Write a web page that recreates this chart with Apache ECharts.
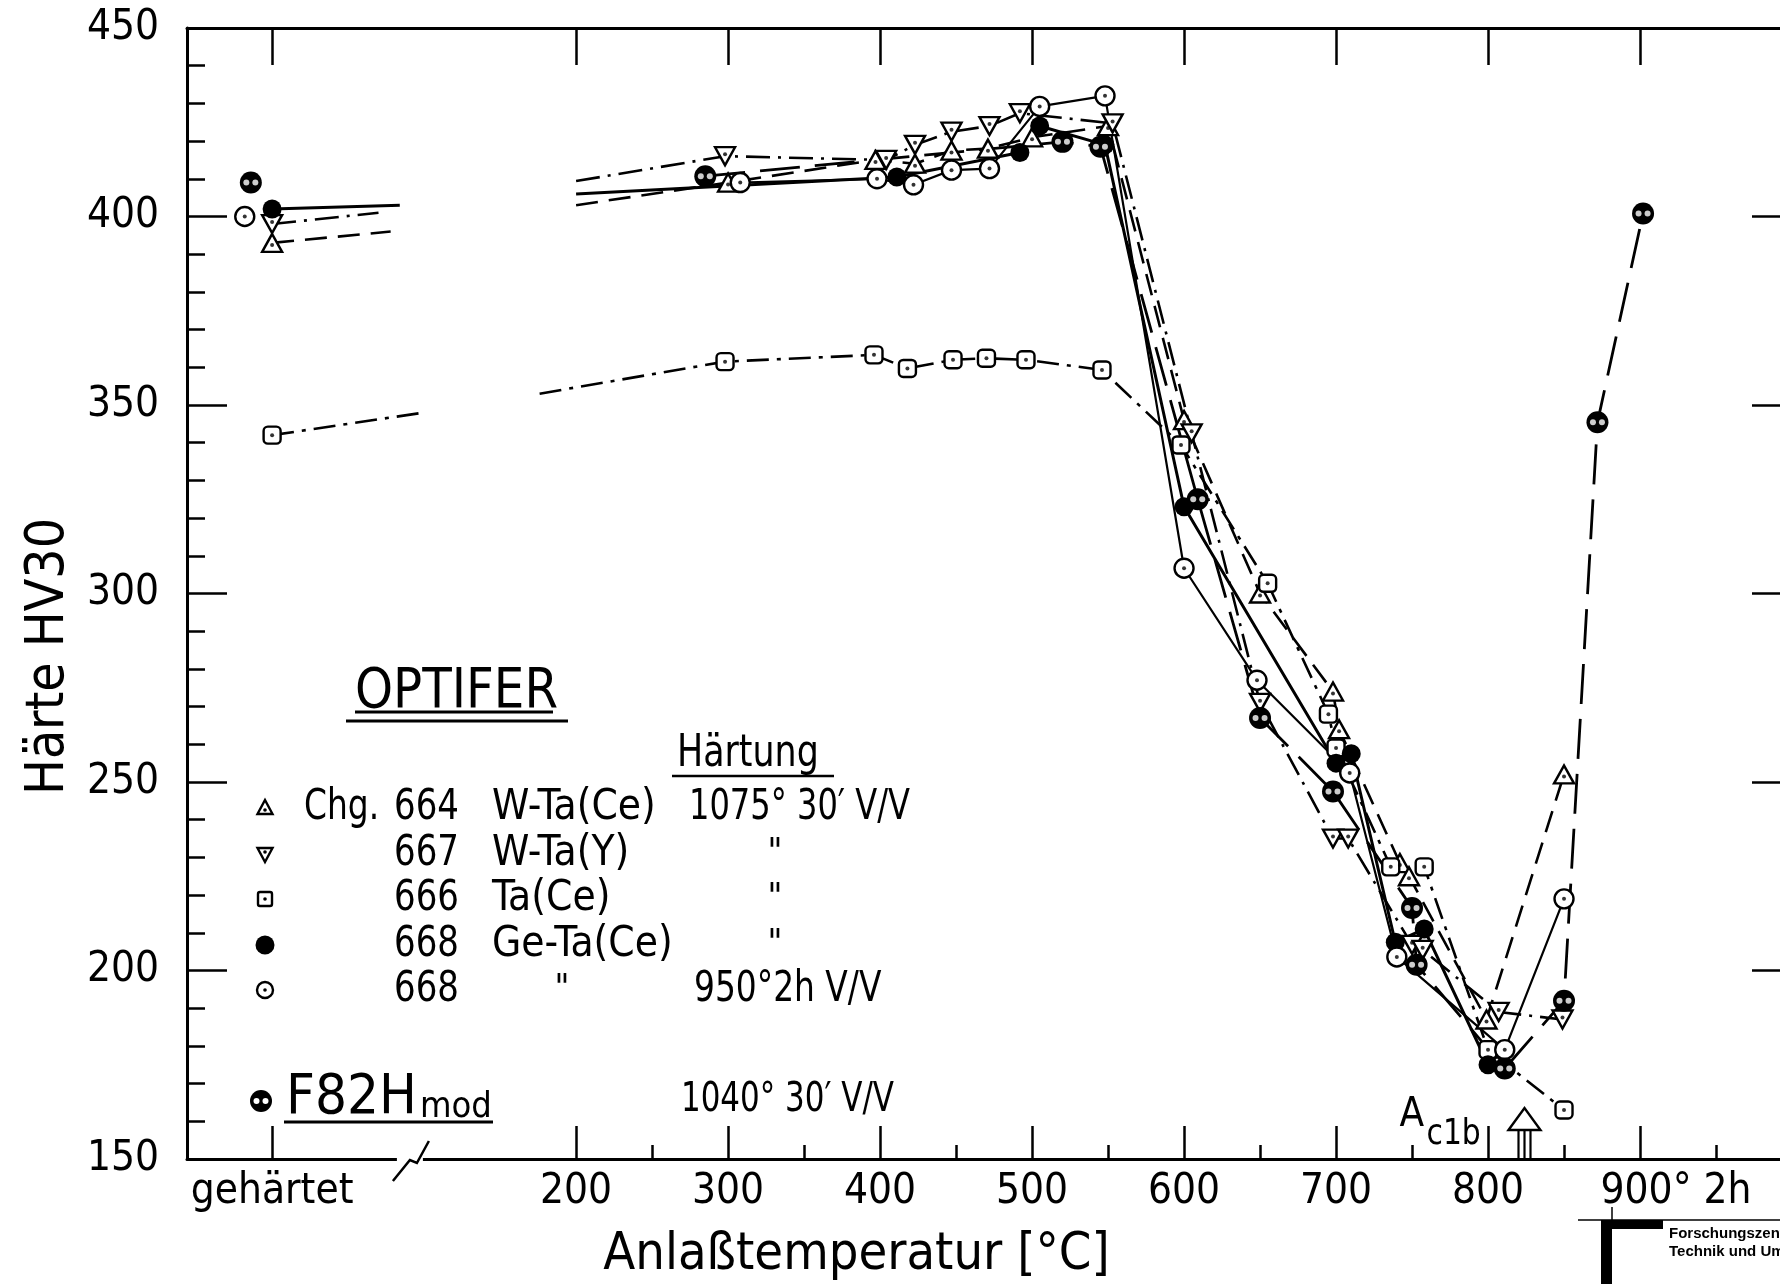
<!DOCTYPE html>
<html><head><meta charset="utf-8">
<script src="https://cdn.jsdelivr.net/npm/echarts@6/dist/echarts.min.js"></script>
<style>html,body{margin:0;padding:0;background:#fff}#c{width:1780px;height:1284px}</style>
</head><body><div id="c"></div>
<script>
// ---- axis ticks / labels ----
const xMajorTicks = [0, 200, 300, 400, 500, 600, 700, 800, 900];
const xMinorTicks = [250, 350, 450, 550, 650, 750, 850, 950];
const xSpecialLabels = { 0: 'gehärtet', 900: '900° 2h' };
const yMin = 150, yMax = 450, yInterval = 50;

// ---- data: [Anlaßtemperatur °C (0 = gehärtet), Härte HV30] ----
// Chg. 664 W-Ta(Ce)
const c664Points = [[0,393],[300,409],[397,415],[423,414],[447,417.5],[471,418],[500,421],[550,424],[600,346],[650,300],[698,274],[702,264],[742,228.5],[748,225],[799,187],[850,252]];
const c664StubEnd = [78,396], c664StubStart = [200,403];
// 667 W-Ta(Y)
const c667Points = [[0,398],[298,416],[404,415],[423,419],[447,422.5],[472,424],[492,427.4],[553,424.7],[605,342.5],[650,271],[698,235],[708,235],[750,206.8],[757,205.5],[807,189],[849,187]];
const c667StubEnd = [70,401], c667StubStart = [200,409.4];
// 666 Ta(Ce)
const c666Points = [[0,342],[298,361.5],[396,363.3],[418,359.7],[448,362],[470,362.4],[496,362],[546,359.3],[598,339.4],[655,302.7],[695,268],[700,259],[736,227.5],[758,227.5],[800,179],[850,163]];
const c666StubEnd = [100,348], c666StubStart = [176,353];
// 668 Ge-Ta(Ce), 1075° 30' V/V
const c668Points = [[0,402],[411,410.5],[492,417],[505,424],[548,419],[600,323],[700,255],[710,257.5],[739,207.5],[758,211],[800,175]];
const c668StubEnd = [84,403], c668StubStart = [200,406];
// 668 Ge-Ta(Ce), 950° 2h V/V
const c668bPoints = [[-18,400],[308,409],[398,410],[422,408.4],[447,412.3],[472,412.7],[505,429.2],[548,432],[600,306.7],[648,277],[709,252.4],[740,203.6],[811,179],[850,219]];
// F82H mod
const f82Points = [[-14,409],[285,410.7],[520,419.8],[545,418.5],[609,325],[650,267],[698,247.5],[750,216.6],[753,201.5],[811,174],[850,192],[872,345.4],[902,400.8]];

const FONT = "'Liberation Sans Narrow','DejaVu Sans Condensed','Arial Narrow',sans-serif";
const X_MIN = -56, X_MAX = 1000;
const BLACK = '#000';

function lineData(points, stubEnd, stubStart) {
  const d = [];
  if (stubEnd) { d.push(points[0], stubEnd, '-', stubStart); }
  return d.concat(points.slice(1));
}
function lineSeries(name, data, type, width) {
  return { name, type: 'line', data, xAxisIndex: 0, yAxisIndex: 0, showSymbol: false, symbol: 'none',
    connectNulls: false, silent: true, z: 2, animation: false,
    lineStyle: { color: BLACK, width, type } };
}
function markSeries(name, data, symbol, size, fill, rotate, z) {
  return { name, type: 'scatter', data, xAxisIndex: 0, yAxisIndex: 0, symbol, symbolSize: size,
    symbolRotate: rotate || 0, silent: true, z: z || 3, animation: false,
    itemStyle: { color: fill, borderColor: BLACK, borderWidth: fill === BLACK ? 0 : 2.4, opacity: 1 } };
}
function dotSeries(name, data, size, color, offset) {
  return { name, type: 'scatter', data, xAxisIndex: 0, yAxisIndex: 0, symbol: 'circle', symbolSize: size,
    symbolOffset: offset || [0, 0], silent: true, z: 4, animation: false,
    itemStyle: { color, borderWidth: 0 } };
}

const hiddenAxis = { type: 'value', min: X_MIN, max: X_MAX, splitLine: { show: false },
  axisLine: { show: false }, axisTick: { show: false }, axisLabel: { show: false } };

const option = {
  backgroundColor: '#fff',
  animation: false,
  grid: { left: 187, right: -12, top: 28, bottom: 125, containLabel: false, outerBoundsMode: 'none' },
  xAxis: [
    Object.assign({}, hiddenAxis, {
      position: 'bottom',
      axisLine: { show: true, onZero: false, lineStyle: { color: BLACK, width: 3 } },
      axisTick: { show: true, inside: true, length: 33, customValues: xMajorTicks, lineStyle: { color: BLACK, width: 2.5 } },
      axisLabel: { show: true, customValues: xMajorTicks, margin: 12, color: BLACK, fontSize: 42, fontFamily: FONT,
        formatter: v => v === 900 ? '{n|900° 2h}' : (xSpecialLabels[v] || String(v)),
        rich: { n: { fontSize: 42, fontFamily: FONT, color: BLACK, padding: [0, 0, 0, 72] } } },
      name: 'Anlaßtemperatur [°C]', nameLocation: 'middle', nameGap: 70,
      nameTextStyle: { fontSize: 52, fontFamily: FONT, color: BLACK, padding: [0, 266, 0, 0] }
    }),
    Object.assign({}, hiddenAxis, {
      position: 'bottom',
      axisTick: { show: true, inside: true, length: 14, customValues: xMinorTicks, lineStyle: { color: BLACK, width: 2.5 } }
    }),
    Object.assign({}, hiddenAxis, {
      position: 'top',
      axisLine: { show: true, onZero: false, lineStyle: { color: BLACK, width: 3 } },
      axisTick: { show: true, inside: true, length: 37, customValues: xMajorTicks, lineStyle: { color: BLACK, width: 2.5 } }
    })
  ],
  yAxis: [
    { type: 'value', position: 'left', min: yMin, max: yMax, interval: yInterval, splitLine: { show: false },
      axisLine: { show: true, onZero: false, lineStyle: { color: BLACK, width: 3 } },
      axisTick: { show: true, inside: true, length: 40, lineStyle: { color: BLACK, width: 2.5 } },
      minorTick: { show: true, splitNumber: 5, length: 18, lineStyle: { color: BLACK, width: 2.5 } },
      axisLabel: { show: true, margin: 28, color: BLACK, fontSize: 42, fontFamily: FONT },
      name: 'Härte HV30', nameLocation: 'middle', nameGap: 100, nameRotate: 90,
      nameTextStyle: { fontSize: 53, fontFamily: FONT, color: BLACK, padding: [0, 126, 0, 0] } },
    { type: 'value', position: 'right', min: yMin, max: yMax, interval: yInterval, splitLine: { show: false },
      axisLine: { show: true, onZero: false, lineStyle: { color: BLACK, width: 3 } },
      axisTick: { show: true, inside: true, length: 40, lineStyle: { color: BLACK, width: 2.5 } },
      axisLabel: { show: false } }
  ],
  series: [
    lineSeries('664 W-Ta(Ce)', lineData(c664Points, c664StubEnd, c664StubStart), [22, 11], 2.6),
    lineSeries('667 W-Ta(Y)', lineData(c667Points, c667StubEnd, c667StubStart), [24, 8, 3, 8], 2.6),
    lineSeries('666 Ta(Ce)', lineData(c666Points, c666StubEnd, c666StubStart), [22, 8, 4, 8], 2.6),
    lineSeries('668 Ge-Ta(Ce)', lineData(c668Points, c668StubEnd, c668StubStart), 'solid', 3),
    lineSeries('668 950°2h', c668bPoints.slice(1), 'solid', 2.2),
    lineSeries('F82H mod', f82Points.slice(1), [40, 15], 2.8),

    markSeries('664 W-Ta(Ce)', c664Points, 'triangle', [20, 18], '#fff'),
    markSeries('667 W-Ta(Y)', c667Points, 'triangle', [20, 18], '#fff', 180),
    markSeries('666 Ta(Ce)', c666Points, 'roundRect', 17, '#fff'),
    markSeries('668 Ge-Ta(Ce)', c668Points, 'circle', 19, BLACK),
    markSeries('668 950°2h', c668bPoints, 'circle', 19, '#fff'),
    markSeries('F82H mod', f82Points, 'circle', 22, BLACK),

    dotSeries('664 dot', c664Points, 4, BLACK, [0, 2]),
    dotSeries('667 dot', c667Points, 4, BLACK, [0, -2]),
    dotSeries('666 dot', c666Points, 4, BLACK),
    dotSeries('668b dot', c668bPoints, 4, BLACK),
    dotSeries('F82H dotL', f82Points, 6, '#fff', [-4.5, 0]),
    dotSeries('F82H dotR', f82Points, 6, '#fff', [4.5, 0])
  ]
};

const chart = echarts.init(document.getElementById('c'), null, { renderer: 'canvas' });
chart.setOption(option);

function px(x, y) { return chart.convertToPixel({ xAxisIndex: 0, yAxisIndex: 0 }, [x, y]); }
function txt(text, x, y, size, extra, sx) {
  const el = { type: 'text', z: 10, silent: true, style: Object.assign({ text, x, y, font: size + 'px ' + FONT,
    fill: BLACK, align: 'left', verticalAlign: 'middle', textAlign: 'left', textVerticalAlign: 'middle' }, extra || {}) };
  if (sx) { el.scaleX = sx; el.originX = x; el.originY = y; }
  return el;
}
function line(x1, y1, x2, y2, w) {
  return { type: 'line', z: 10, silent: true, shape: { x1, y1, x2, y2 }, style: { stroke: BLACK, lineWidth: w || 3 } };
}
function sym(kind, cx, cy) {
  const els = [];
  if (kind === 'up') els.push({ type: 'polygon', shape: { points: [[cx, cy - 8], [cx + 7.5, cy + 6], [cx - 7.5, cy + 6]] }, style: { fill: '#fff', stroke: BLACK, lineWidth: 2.4 } });
  if (kind === 'down') els.push({ type: 'polygon', shape: { points: [[cx, cy + 8], [cx + 7.5, cy - 6], [cx - 7.5, cy - 6]] }, style: { fill: '#fff', stroke: BLACK, lineWidth: 2.4 } });
  if (kind === 'sq') els.push({ type: 'rect', shape: { x: cx - 7, y: cy - 7, width: 14, height: 14, r: 2 }, style: { fill: '#fff', stroke: BLACK, lineWidth: 2.4 } });
  if (kind === 'fill') els.push({ type: 'circle', shape: { cx, cy, r: 9.5 }, style: { fill: BLACK } });
  if (kind === 'circ') els.push({ type: 'circle', shape: { cx, cy, r: 8 }, style: { fill: '#fff', stroke: BLACK, lineWidth: 2.4 } });
  if (kind === 'f82') {
    els.push({ type: 'circle', shape: { cx, cy, r: 11 }, style: { fill: BLACK } });
    els.push({ type: 'circle', shape: { cx: cx - 4.5, cy, r: 3 }, style: { fill: '#fff' } });
    els.push({ type: 'circle', shape: { cx: cx + 4.5, cy, r: 3 }, style: { fill: '#fff' } });
  }
  if (kind !== 'fill' && kind !== 'f82') {
    const dy = kind === 'up' ? 2 : (kind === 'down' ? -2 : 0);
    els.push({ type: 'circle', shape: { cx, cy: cy + dy, r: 1.8 }, style: { fill: BLACK } });
  }
  els.forEach(e => { e.z = 10; e.silent = true; });
  return els;
}

const g = [];
// OPTIFER title
g.push(txt('OPTIFER', 355, 692, 56, null, 0.96));
g.push(line(355, 712, 553, 712, 3), line(346, 721, 568, 721, 3));
// Härtung
g.push(txt('Härtung', 677, 755, 44, null, 0.88));
g.push(line(672, 776, 834, 776, 2.5));
// legend rows
const rowsY = [808, 854, 899, 945, 990];
const rowKinds = ['up', 'down', 'sq', 'fill', 'circ'];
const rowNums = ['664', '667', '666', '668', '668'];
const rowAlloys = ['W-Ta(Ce)', 'W-Ta(Y)', 'Ta(Ce)', 'Ge-Ta(Ce)', ''];
rowsY.forEach((y, i) => {
  sym(rowKinds[i], 265, y).forEach(e => g.push(e));
  g.push(txt(rowNums[i], 394, y, 42, null, 0.9));
  if (rowAlloys[i]) g.push(txt(rowAlloys[i], 492, y, 42));
});
g.push(txt('Chg.', 304, rowsY[0], 42, null, 0.87));
g.push(txt('1075° 30′ V/V', 689, rowsY[0], 42, null, 0.85));
[1, 2, 3].forEach(i => g.push(txt('"', 775, rowsY[i], 36, { align: 'center', textAlign: 'center' })));
g.push(txt('"', 562, rowsY[4], 36, { align: 'center', textAlign: 'center' }));
g.push(txt('950°2h V/V', 694, rowsY[4], 42, null, 0.87));
// F82H mod
sym('f82', 261, 1101).forEach(e => g.push(e));
g.push(txt('F82H', 286, 1098, 56));
g.push(txt('mod', 420, 1108, 36));
g.push(line(284, 1122, 493, 1122, 3));
g.push(txt('1040° 30′ V/V', 681, 1101, 40, null, 0.86));

// axis break marker on the x axis
const bp = px(90, yMin);
g.push({ type: 'rect', z: 9, silent: true, shape: { x: bp[0] - 12, y: bp[1] - 4, width: 26, height: 8 }, style: { fill: '#fff' } });
g.push({ type: 'polyline', z: 10, silent: true, shape: { points: [[bp[0] - 16, bp[1] + 22], [bp[0] + 1, bp[1] + 1], [bp[0] + 8, bp[1] + 4], [bp[0] + 20, bp[1] - 18]] }, style: { stroke: BLACK, lineWidth: 2.5, fill: null } });

// Ac1b marker
const ap = px(824, yMin);
const ax = ap[0], ay = ap[1];
g.push(txt('A', ax - 125, ay - 43, 40));
g.push(txt('c1b', ax - 98, ay - 24, 36, null, 0.92));
g.push(line(ax - 6, ay - 29, ax - 6, ay - 1, 2.2), line(ax, ay - 29, ax, ay - 1, 2.2), line(ax + 6, ay - 29, ax + 6, ay - 1, 2.2));
g.push({ type: 'polygon', z: 10, silent: true, shape: { points: [[ax - 16, ay - 29], [ax, ay - 51], [ax + 16, ay - 29]] }, style: { fill: null, stroke: BLACK, lineWidth: 2.4 } });

// institute stamp (bottom right)
g.push({ type: 'rect', z: 10, silent: true, shape: { x: 1601, y: 1220, width: 11, height: 64 }, style: { fill: BLACK } });
g.push({ type: 'rect', z: 10, silent: true, shape: { x: 1601, y: 1220, width: 62, height: 9 }, style: { fill: BLACK } });
g.push(line(1578, 1220, 1780, 1220, 1.5));
g.push(line(1612, 1207, 1612, 1220, 1.5));
g.push({ type: 'text', z: 10, silent: true, style: { text: 'Forschungszentrum Karlsruhe', x: 1669, y: 1234, font: 'bold 15px Liberation Sans, Arial, sans-serif', fill: BLACK, verticalAlign: 'middle', textVerticalAlign: 'middle' } });
g.push({ type: 'text', z: 10, silent: true, style: { text: 'Technik und Umwelt', x: 1669, y: 1252, font: 'bold 15px Liberation Sans, Arial, sans-serif', fill: BLACK, verticalAlign: 'middle', textVerticalAlign: 'middle' } });

chart.setOption({ graphic: g });
</script></body></html>
